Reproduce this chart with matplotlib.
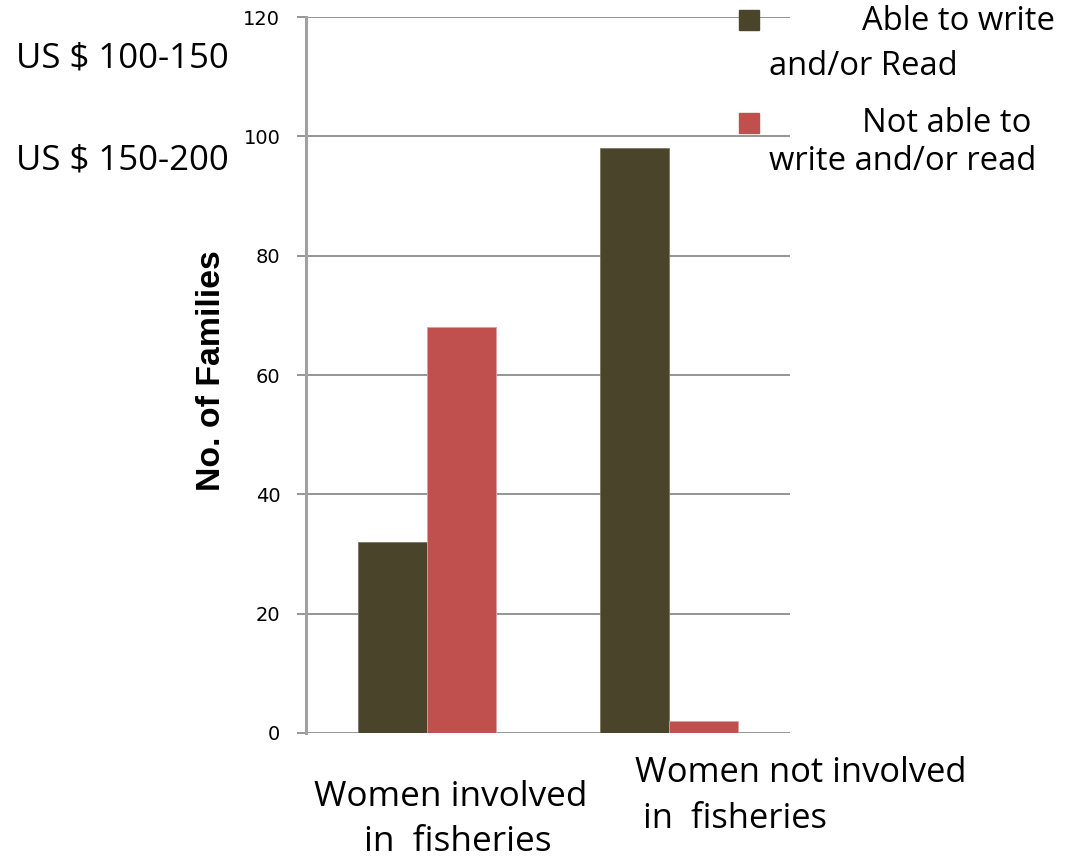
import matplotlib
matplotlib.use("Agg")
import matplotlib.pyplot as plt
from matplotlib.lines import Line2D

# Literacy of families by women's involvement in fisheries
categories = ["Women involved\nin  fisheries", "Women not involved\nin  fisheries"]
able = [32, 98]
not_able = [68, 2]
series_labels = [("Able to write", "and/or Read"), ("Not able to", "write and/or read")]
income_labels = ["US $ 100-150", "US $ 150-200"]
yticks = [0, 20, 40, 60, 80, 100, 120]

DARK = "#4A452A"
RED = "#C0504D"
GRID = "#8C8C8C"
FONT = "Open Sans"

W, H = 1069, 860
fig = plt.figure(figsize=(W / 100, H / 100), dpi=100)
ax = fig.add_axes([306 / W, 1 - 733 / H, 484 / W, 716 / H])


def fx(px):
    return px / W


def fy(py):
    return 1 - py / H


x = list(range(len(categories)))
bw = 0.287
ax.bar([i - bw / 2 for i in x], able, width=bw, color=DARK,
       edgecolor="#7A7660", linewidth=0.6, zorder=3)
ax.bar([i + bw / 2 for i in x], not_able, width=bw, color=RED,
       edgecolor="#D9A09E", linewidth=0.6, zorder=3)

ax.set_xlim(-0.5, 1.5)
ax.set_ylim(0, 120)
ax.set_yticks(yticks)
ax.set_yticklabels([str(t) for t in yticks], fontsize=14, family="DejaVu Sans")
ax.tick_params(axis="y", length=6.5, width=1.3, color=GRID, pad=12, direction="out")
ax.tick_params(axis="x", bottom=False, labelbottom=False)
ax.yaxis.grid(True, color=GRID, linewidth=1.3, zorder=0)
ax.set_axisbelow(True)
for s in ["top", "right", "bottom"]:
    ax.spines[s].set_visible(False)
ax.spines["left"].set_color("#A0A0A0")
ax.spines["left"].set_linewidth(2.2)

ax.set_ylabel("No. of Families", fontsize=24.4, fontweight="bold", family="Liberation Sans")
ax.yaxis.set_label_coords(-0.163, 0.5056)

# Category labels under the bars
cat1 = categories[0].split("\n")
cat2 = categories[1].split("\n")
fig.text(fx(451), fy(806), cat1[0], ha="center", va="baseline", fontsize=25.3, family=FONT)
fig.text(fx(458), fy(851), cat1[1], ha="center", va="baseline", fontsize=25.3, family=FONT)
fig.text(fx(635), fy(782), cat2[0], ha="left", va="baseline", fontsize=24.8, family=FONT)
fig.text(fx(643), fy(828), cat2[1], ha="left", va="baseline", fontsize=24.8, family=FONT)

# Income bands at the upper left
fig.text(fx(16), fy(67), income_labels[0], fontsize=25, family=FONT, va="baseline")
fig.text(fx(16), fy(170), income_labels[1], fontsize=25, family=FONT, va="baseline")

# Legend: square keys with two-line labels
for (line1, line2), color, ky, b1, b2 in [
    (series_labels[0], DARK, 19.5, 30, 75),
    (series_labels[1], RED, 122.5, 132, 170),
]:
    fig.add_artist(Line2D([fx(748.5)], [fy(ky)], marker="s", markersize=15,
                          color=color, linestyle="none"))
    fig.text(fx(862), fy(b1), line1, fontsize=23.6, family=FONT, va="baseline")
    fig.text(fx(769), fy(b2), line2, fontsize=23.6, family=FONT, va="baseline")

fig.savefig("out.png", dpi=100)
